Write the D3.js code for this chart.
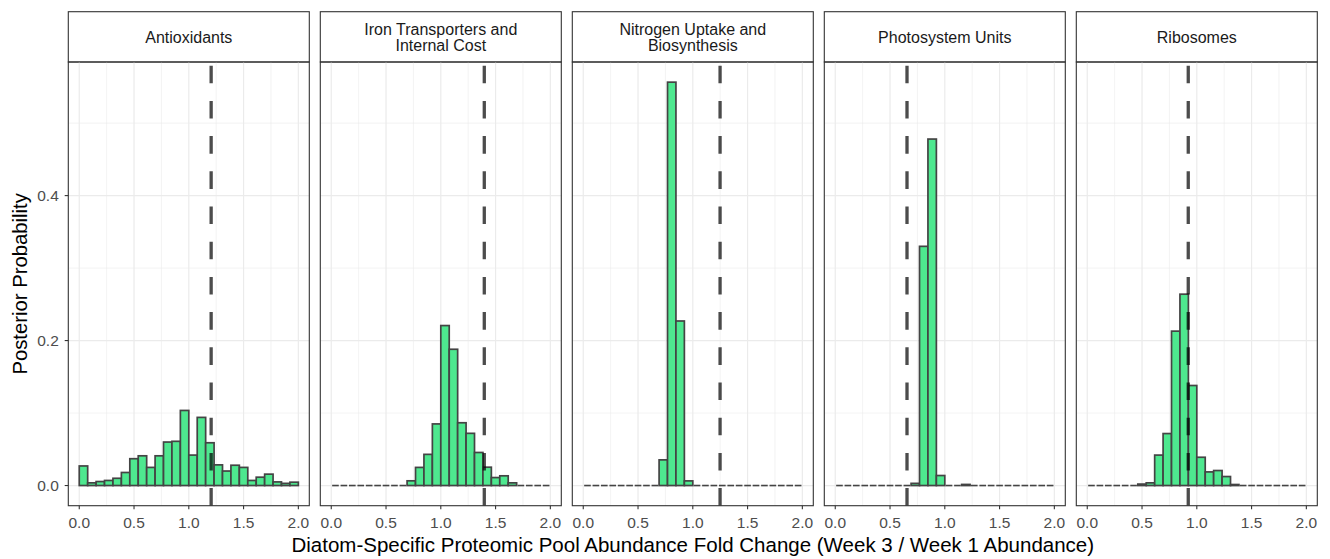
<!DOCTYPE html>
<html>
<head>
<meta charset="utf-8">
<script src="https://cdn.jsdelivr.net/npm/d3@7"></script>
<style>
  html, body { margin: 0; padding: 0; background: #ffffff; }
  svg { display: block; font-family: "Liberation Sans", Arial, Helvetica, sans-serif; }
</style>
</head>
<body>
<svg id="chart" width="1330" height="559"></svg>
<script>
// Facet titles (one line per array entry)
const panelTitles = [
  ["Antioxidants"],
  ["Iron Transporters and", "Internal Cost"],
  ["Nitrogen Uptake and", "Biosynthesis"],
  ["Photosystem Units"],
  ["Ribosomes"]
];

// Histogram bins span 0 to 2 in 26 equal steps
const binCount = 26;
const binRange = [0, 2];

// Posterior probability per bin, one array per protein pool
const antioxidants = [0.027, 0.0037, 0.0055, 0.007, 0.010, 0.018, 0.037, 0.041, 0.025, 0.041,
                      0.060, 0.061, 0.1036, 0.042, 0.094, 0.059, 0.0285, 0.020, 0.028, 0.025,
                      0.007, 0.0115, 0.0157, 0.005, 0.003, 0.0046];
const ironTransport = [0, 0, 0, 0, 0, 0, 0, 0, 0, 0.0065,
                       0.025, 0.043, 0.085, 0.2207, 0.188, 0.0866, 0.072, 0.0456, 0.0253, 0.011,
                       0.0134, 0.0037, 0, 0, 0, 0];
const nitrogenUptake = [0, 0, 0, 0, 0, 0, 0, 0, 0, 0.0354,
                        0.5565, 0.227, 0.0064, 0, 0, 0, 0, 0, 0, 0,
                        0, 0, 0, 0, 0, 0];
const photosystem = [0, 0, 0, 0, 0, 0, 0, 0, 0, 0.003,
                     0.330, 0.478, 0.0138, 0, 0, 0.0015, 0, 0, 0, 0,
                     0, 0, 0, 0, 0, 0];
const ribosomes = [0, 0, 0, 0, 0, 0, 0.002, 0.0037, 0.042, 0.0717,
                   0.213, 0.264, 0.138, 0.039, 0.0188, 0.0207, 0.0124, 0.0014, 0, 0,
                   0, 0, 0, 0, 0, 0];

const panelValues = [antioxidants, ironTransport, nitrogenUptake, photosystem, ribosomes];

// Observed fold change marked by the dashed line in each panel
const observedFold = [1.204, 1.397, 1.249, 0.655, 0.922];

const xTicks = [0, 0.5, 1, 1.5, 2];
const xMinor = [0.25, 0.75, 1.25, 1.75];
const yTicks = [0, 0.2, 0.4];
const yMinor = [0.1, 0.3, 0.5];

const xAxisTitle = "Diatom-Specific Proteomic Pool Abundance Fold Change (Week 3 / Week 1 Abundance)";
const yAxisTitle = "Posterior Probability";

// Layout
const panelLeft0 = 68.3, panelStep = 252, panelW = 241;
const stripTop = 11.7, stripH = 50.3;
const plotTop = stripTop + stripH, plotH = 443.7;

const fillColor = "#4ee88f";
const outlineColor = "#444444";
const gridColor = "#ebebeb";
const borderColor = "#333333";

const svg = d3.select("#chart");

// Shared scales with ggplot-style 5% padding
const maxVal = d3.max(panelValues.flat());
const yPad = maxVal * 0.05;
const xPad = (binRange[1] - binRange[0]) * 0.05;
const x = d3.scaleLinear().domain([binRange[0] - xPad, binRange[1] + xPad]).range([0, panelW]);
const y = d3.scaleLinear().domain([-yPad, maxVal + yPad]).range([plotH, 0]);

const binEdges = d3.range(binCount + 1).map(i => binRange[0] + (binRange[1] - binRange[0]) * i / binCount);

panelValues.forEach((values, p) => {
  const g = svg.append("g")
    .attr("transform", `translate(${panelLeft0 + p * panelStep},0)`);

  // strip
  g.append("rect")
    .attr("x", 0).attr("y", stripTop)
    .attr("width", panelW).attr("height", stripH)
    .attr("fill", "#ffffff").attr("stroke", borderColor).attr("stroke-width", 1.1);
  const lines = panelTitles[p];
  const lineGap = 16;
  const midY = stripTop + stripH / 2;
  lines.forEach((t, k) => {
    g.append("text")
      .attr("x", panelW / 2)
      .attr("y", midY + (k - (lines.length - 1) / 2) * lineGap)
      .attr("dy", "0.36em")
      .attr("text-anchor", "middle")
      .attr("font-size", 16)
      .attr("fill", "#1a1a1a")
      .text(t);
  });

  const plot = g.append("g").attr("transform", `translate(0,${plotTop})`);

  // minor grid
  plot.selectAll(".xminor").data(xMinor).join("line")
    .attr("x1", d => x(d)).attr("x2", d => x(d))
    .attr("y1", 0).attr("y2", plotH)
    .attr("stroke", gridColor).attr("stroke-width", 0.6);
  plot.selectAll(".yminor").data(yMinor).join("line")
    .attr("x1", 0).attr("x2", panelW)
    .attr("y1", d => y(d)).attr("y2", d => y(d))
    .attr("stroke", gridColor).attr("stroke-width", 0.6);
  // major grid
  plot.selectAll(".xmajor").data(xTicks).join("line")
    .attr("x1", d => x(d)).attr("x2", d => x(d))
    .attr("y1", 0).attr("y2", plotH)
    .attr("stroke", gridColor).attr("stroke-width", 1.2);
  plot.selectAll(".ymajor").data(yTicks).join("line")
    .attr("x1", 0).attr("x2", panelW)
    .attr("y1", d => y(d)).attr("y2", d => y(d))
    .attr("stroke", gridColor).attr("stroke-width", 1.2);

  const bins = values.map((v, i) => ({ v, x0: binEdges[i], x1: binEdges[i + 1] }));

  // bars with visible height
  plot.selectAll(".bar").data(bins.filter(b => y(0) - y(b.v) >= 0.8)).join("rect")
    .attr("x", d => x(d.x0))
    .attr("y", d => y(d.v))
    .attr("width", d => x(d.x1) - x(d.x0))
    .attr("height", d => y(0) - y(d.v))
    .attr("fill", fillColor)
    .attr("stroke", outlineColor)
    .attr("stroke-width", 1.7);

  // empty bins collapse to a flat outline
  plot.selectAll(".flat").data(bins.filter(b => y(0) - y(b.v) < 0.8)).join("line")
    .attr("x1", d => x(d.x0) + 0.9)
    .attr("x2", d => x(d.x1) - 0.9)
    .attr("y1", y(0)).attr("y2", y(0))
    .attr("stroke", outlineColor)
    .attr("stroke-width", 1.6);

  // observed value, dashed, drawn from the bottom up
  plot.append("line")
    .attr("x1", x(observedFold[p])).attr("x2", x(observedFold[p]))
    .attr("y1", plotH).attr("y2", 0)
    .attr("stroke", "#000000")
    .attr("stroke-opacity", 0.7)
    .attr("stroke-width", 3.3)
    .attr("stroke-dasharray", "17.6 17.6");

  // panel border
  plot.append("rect")
    .attr("x", 0).attr("y", 0)
    .attr("width", panelW).attr("height", plotH)
    .attr("fill", "none").attr("stroke", borderColor).attr("stroke-width", 1.1);

  // x axis ticks and labels
  const xa = plot.append("g").attr("transform", `translate(0,${plotH})`);
  xa.selectAll("line").data(xTicks).join("line")
    .attr("x1", d => x(d)).attr("x2", d => x(d))
    .attr("y1", 0).attr("y2", 3.6)
    .attr("stroke", borderColor).attr("stroke-width", 1.1);
  xa.selectAll("text").data(xTicks).join("text")
    .attr("x", d => x(d))
    .attr("y", 22.3)
    .attr("text-anchor", "middle")
    .attr("font-size", 15.5)
    .attr("fill", "#4d4d4d")
    .text(d => d3.format(".1f")(d));

  // y axis only on the first panel
  if (p === 0) {
    const ya = plot.append("g");
    ya.selectAll("line").data(yTicks).join("line")
      .attr("x1", -3.6).attr("x2", 0)
      .attr("y1", d => y(d)).attr("y2", d => y(d))
      .attr("stroke", borderColor).attr("stroke-width", 1.1);
    ya.selectAll("text").data(yTicks).join("text")
      .attr("x", -9.5)
      .attr("y", d => y(d))
      .attr("dy", "0.36em")
      .attr("text-anchor", "end")
      .attr("font-size", 15.5)
      .attr("fill", "#4d4d4d")
      .text(d => d3.format(".1f")(d));
  }
});

// axis titles
const plotsLeft = panelLeft0;
const plotsRight = panelLeft0 + 4 * panelStep + panelW;
svg.append("text")
  .attr("x", (plotsLeft + plotsRight) / 2)
  .attr("y", 551.5)
  .attr("text-anchor", "middle")
  .attr("font-size", 20.5)
  .attr("fill", "#000000")
  .text(xAxisTitle);

svg.append("text")
  .attr("transform", `translate(26.5,${plotTop + plotH / 2}) rotate(-90)`)
  .attr("text-anchor", "middle")
  .attr("font-size", 20.3)
  .attr("fill", "#000000")
  .text(yAxisTitle);
</script>
</body>
</html>
